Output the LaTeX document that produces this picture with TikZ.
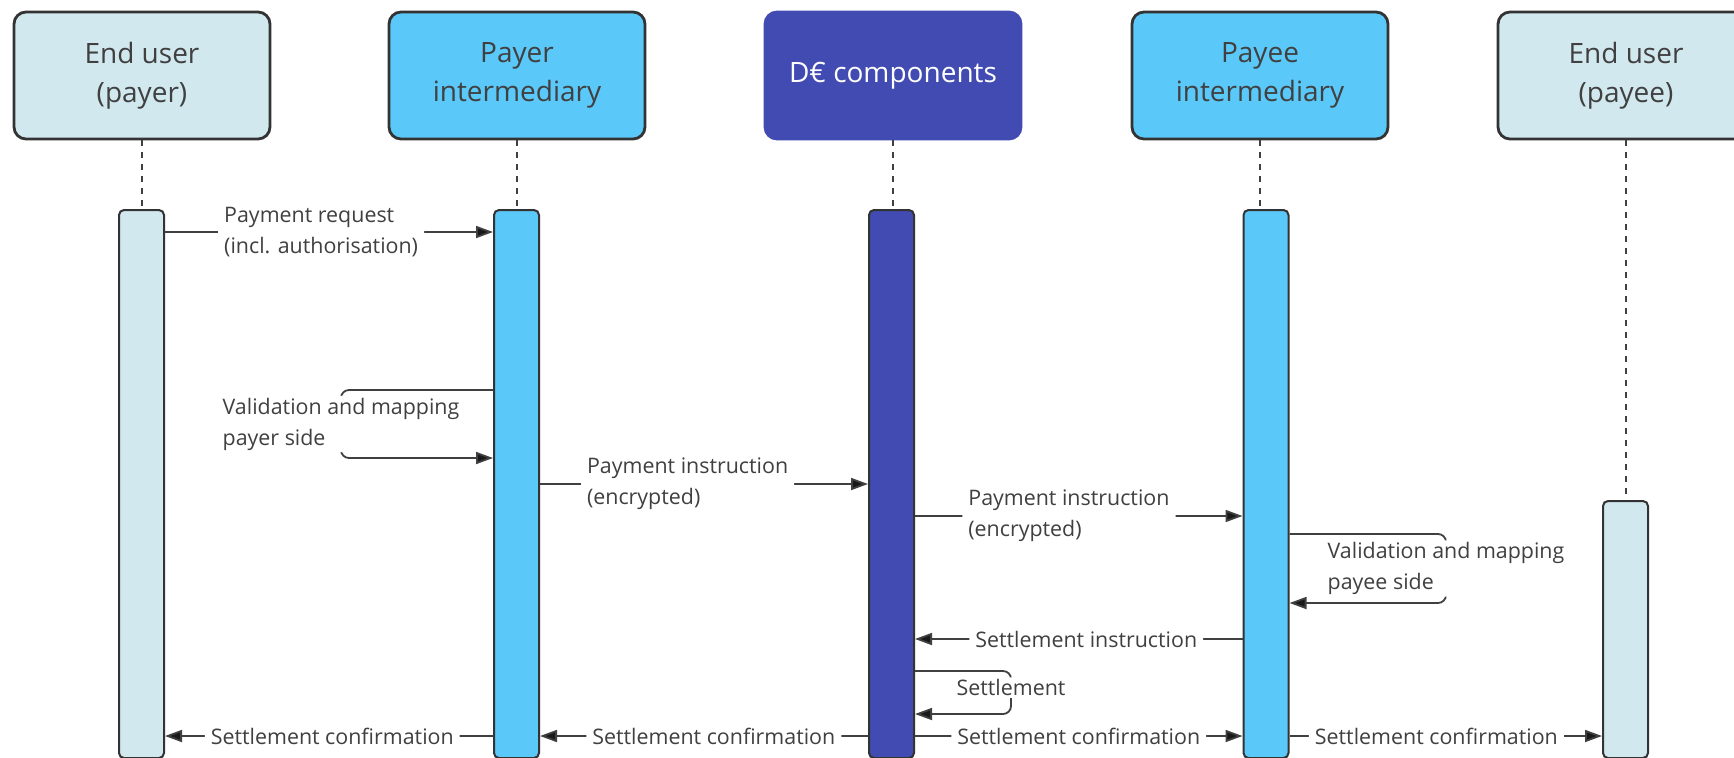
\documentclass[tikz,border=0pt]{standalone}
\usepackage{fontspec}
\setmainfont{Open Sans}
\usetikzlibrary{arrows.meta}

\definecolor{userblue}{HTML}{D2E8EF}
\definecolor{interblue}{HTML}{5AC8F8}
\definecolor{deuroblue}{HTML}{414BB2}
\definecolor{linegrey}{HTML}{404040}
\definecolor{textgrey}{HTML}{404040}

\tikzset{
  actor/.style={draw=black!80, line width=1.4pt, rounded corners=6pt,
    minimum width=128pt, minimum height=63.5pt, align=center,
    text=textgrey, font=\fontsize{14}{19.5}\selectfont},
  lifebar/.style={draw=black!80, line width=1pt, rounded corners=2.5pt,
    minimum width=22.5pt, anchor=north, inner sep=0pt},
  lifeline/.style={draw=linegrey, line width=0.6pt, dash pattern=on 3pt off 3pt},
  msg/.style={draw=linegrey, line width=0.9pt, rounded corners=4pt,
    -{Triangle[length=8.5pt,width=6pt,fill=black!90]}},
  msglabel/.style={fill=white, inner xsep=3pt, inner ysep=1pt, align=left,
    text=textgrey, font=\fontsize{10.7}{15.5}\selectfont},
}

\begin{document}
\begin{tikzpicture}[x=0.5pt,y=-0.5pt]
    \clip (0,0) rectangle (1734,757);

    % the five participants
    \node[actor, fill=userblue] (payer) at (142,75.5) {End user\\(payer)};
    \node[actor, fill=interblue] (payerint) at (517,75.5) {Payer\\intermediary};
    \node[actor, fill=deuroblue, draw=deuroblue, text=white] (deuro) at (893,75.5) {D€ components};
    \node[actor, fill=interblue] (payeeint) at (1260,75.5) {Payee\\intermediary};
    \node[actor, fill=userblue] (payee) at (1626,75.5) {End user\\(payee)};

    % activation bars
    \node[lifebar, fill=userblue, minimum height=274pt] (b1) at (141.5,209) {};
    \node[lifebar, fill=interblue, minimum height=274pt] (b2) at (516.5,209) {};
    \node[lifebar, fill=deuroblue, minimum height=274pt] (b3) at (891.5,209) {};
    \node[lifebar, fill=interblue, minimum height=274pt] (b4) at (1266,209) {};
    \node[lifebar, fill=userblue, minimum height=128.5pt] (b5) at (1625.5,500) {};

    \draw[lifeline] (payer) -- (payer |- b1.north);
    \draw[lifeline] (payerint) -- (payerint |- b2.north);
    \draw[lifeline] (deuro) -- (deuro |- b3.north);
    \draw[lifeline] (payeeint) -- (payeeint |- b4.north);
    \draw[lifeline] (payee) -- (payee |- b5.north);

    % Now the messages, top to bottom:

    \draw[msg] (b1.east |- 0,232) -- node[msglabel, pos=0.476] {Payment request\\(incl. authorisation)} (b2.west |- 0,232);

    \draw[msg] (b2.west |- 0,390) -- (341,390) -- node[msglabel] {Validation and mapping\\payer side} (341,458) -- (b2.west |- 0,458);

    \draw[msg] (b2.east |- 0,484) -- node[msglabel, pos=0.45] {Payment instruction\\(encrypted)} (b3.west |- 0,484);
    \draw[msg] (b3.east |- 0,516) -- node[msglabel, pos=0.47] {Payment instruction\\(encrypted)} (b4.west |- 0,516);

    \draw[msg] (b4.east |- 0,534) -- (1446,534) -- node[msglabel] {Validation and mapping\\payee side} (1446,603) -- (b4.east |- 0,603);

    \draw[msg] (b4.west |- 0,639) -- node[msglabel, pos=0.477] {Settlement instruction} (b3.east |- 0,639);

    \draw[msg] (b3.east |- 0,671) -- (1011,671) -- node[msglabel, yshift=2.5pt] {Settlement} (1011,714) -- (b3.east |- 0,714);

    % and the settlement confirmations on one row
    \draw[msg] (b2.west |- 0,736) -- node[msglabel, pos=0.49] {Settlement confirmation} (b1.east |- 0,736);
    \draw[msg] (b3.west |- 0,736) -- node[msglabel, pos=0.47] {Settlement confirmation} (b2.east |- 0,736);
    \draw[msg] (b3.east |- 0,736) -- node[msglabel, pos=0.5] {Settlement confirmation} (b4.west |- 0,736);
    \draw[msg] (b4.east |- 0,736) -- node[msglabel, pos=0.47] {Settlement confirmation} (b5.west |- 0,736);

\end{tikzpicture}
\end{document}
